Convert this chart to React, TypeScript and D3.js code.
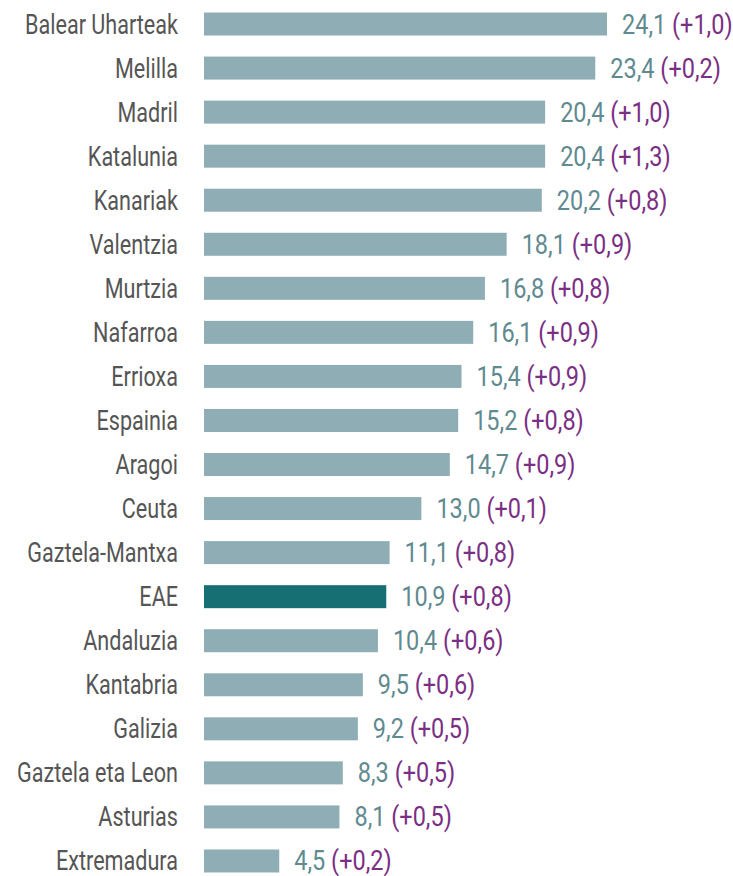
import React from "react";
import * as d3 from "d3";

const categories = ["Balear Uharteak","Melilla","Madril","Katalunia","Kanariak","Valentzia","Murtzia","Nafarroa","Errioxa","Espainia","Aragoi","Ceuta","Gaztela-Mantxa","EAE","Andaluzia","Kantabria","Galizia","Gaztela eta Leon","Asturias","Extremadura"];
const values = [24.1,23.4,20.4,20.4,20.2,18.1,16.8,16.1,15.4,15.2,14.7,13.0,11.1,10.9,10.4,9.5,9.2,8.3,8.1,4.5];
const changes = [1.0,0.2,1.0,1.3,0.8,0.9,0.8,0.9,0.9,0.8,0.9,0.1,0.8,0.8,0.6,0.6,0.5,0.5,0.5,0.2];
const highlight = "EAE";

const W = 733, H = 876;
const FONT = "Roboto, 'Liberation Sans', sans-serif";
const fmt = (v: number) => v.toFixed(1).replace(".", ",");

export default function App() {
  const x = d3.scaleLinear().domain([0, 24.1]).range([204, 607]);
  const y = d3.scaleBand().domain(categories).range([2, 2 + 44.05 * 20]).paddingInner(0.478).paddingOuter(0.239);
  return (
    <svg width={W} height={H} style={{ position: "absolute", left: 0, top: 0 }}>
      <rect width={W} height={H} fill="#fff" />
      {categories.map((c, i) => {
        const yy = y(c)!;
        const cy = yy + y.bandwidth() / 2;
        const xe = x(values[i]);
        return (
          <g key={c}>
            <rect x={x(0)} y={yy} width={xe - x(0)} height={y.bandwidth()} fill={c === highlight ? "#156f73" : "#8fadb5"} />
            <g transform={`translate(178,${cy + 9.5}) scale(0.8,1)`}>
              <text textAnchor="end" fontFamily={FONT} fontSize={27} fill="#555555">{c}</text>
            </g>
            <g transform={`translate(${xe + 15},${cy + 9.5}) scale(0.87,1)`}>
              <text fontFamily={FONT} fontSize={27}>
                <tspan fill="#5f8a90">{fmt(values[i])}</tspan>
                <tspan fill="#7b2f84">{` (+${fmt(changes[i])})`}</tspan>
              </text>
            </g>
          </g>
        );
      })}
    </svg>
  );
}
